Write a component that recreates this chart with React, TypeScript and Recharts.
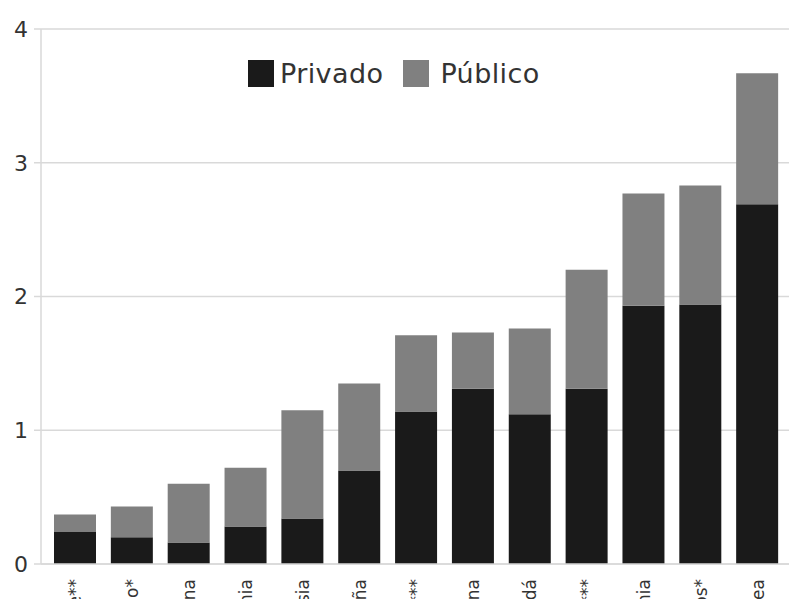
import * as React from 'react';
import {
  BarChart,
  Bar,
  XAxis,
  YAxis,
  CartesianGrid,
} from 'recharts';

const paises = [
  'Chile**',
  'México*',
  'Argentina',
  'Polonia',
  'Rusia',
  'España',
  'Portugal***',
  'China',
  'Canadá',
  'Francia***',
  'Alemania',
  'Estados Unidos*',
  'Corea',
];
const privado = [0.24, 0.2, 0.16, 0.28, 0.34, 0.7, 1.14, 1.31, 1.12, 1.31, 1.93, 1.94, 2.69];
const publico = [0.13, 0.23, 0.44, 0.44, 0.81, 0.65, 0.57, 0.42, 0.64, 0.89, 0.84, 0.89, 0.98];
const yTicks = [0, 1, 2, 3, 4];

const data = paises.map((p, i) => ({ pais: p, privado: privado[i], publico: publico[i] }));

const FONT = '"DejaVu Sans", sans-serif';
const GRIS = '#d9d9d9';
const TEXTO = '#333';

// etiquetas giradas, se cortan en el borde inferior como en el original
const PaisTick = (props: any) => {
  const { x, y, payload } = props;
  const yy = y + 7;
  return (
    <text
      x={x}
      y={yy}
      transform={`rotate(-90, ${x}, ${yy})`}
      textAnchor="end"
      dy="0.35em"
      fontSize={17}
      fontFamily={FONT}
      fill={TEXTO}
    >
      {payload.value}
    </text>
  );
};

const Leyenda = () => (
  <div
    style={{
      position: 'absolute',
      top: 60,
      left: 248,
      display: 'flex',
      alignItems: 'center',
      fontFamily: FONT,
      fontSize: 27,
      letterSpacing: 0.4,
      lineHeight: '27px',
      color: TEXTO,
    }}
  >
    <span style={{ width: 26, height: 27, background: '#1a1a1a', display: 'inline-block', marginRight: 6 }} />
    <span style={{ marginRight: 20 }}>Privado</span>
    <span style={{ width: 26, height: 27, background: '#808080', display: 'inline-block', marginRight: 11 }} />
    <span>Público</span>
  </div>
);

export default function App() {
  return (
    <div style={{ margin: -8, width: 797, height: 607, overflow: 'hidden', background: '#fff', position: 'relative' }}>
      <BarChart
        width={797}
        height={700}
        data={data}
        margin={{ top: 29, right: 0, left: 0, bottom: 0 }}
        barSize={42}
      >
        <CartesianGrid vertical={false} stroke={GRIS} strokeWidth={1.5} />
        <XAxis
          dataKey="pais"
          height={136}
          interval={0}
          tickLine={false}
          axisLine={{ stroke: GRIS, strokeWidth: 1.5 }}
          tick={<PaisTick />}
          padding={{ left: 6, right: 11 }}
        />
        <YAxis
          width={41}
          domain={[0, 4]}
          ticks={yTicks}
          tickSize={7}
          tickMargin={6}
          tickLine={{ stroke: GRIS, strokeWidth: 1.5 }}
          axisLine={{ stroke: GRIS, strokeWidth: 1.5 }}
          tick={{ fontSize: 22, fontFamily: FONT, fill: TEXTO }}
        />
        <Bar dataKey="privado" stackId="a" fill="#1a1a1a" isAnimationActive={false} />
        <Bar dataKey="publico" stackId="a" fill="#808080" isAnimationActive={false} />
      </BarChart>
      <Leyenda />
    </div>
  );
}
